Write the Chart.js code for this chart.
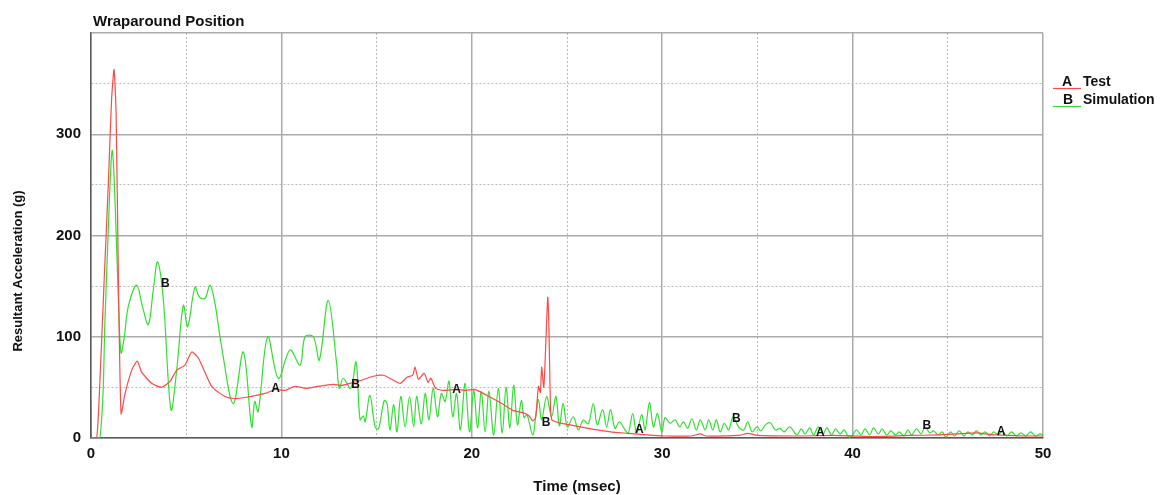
<!DOCTYPE html>
<html>
<head>
<meta charset="utf-8">
<script src="https://cdn.jsdelivr.net/npm/chart.js@4/dist/chart.umd.min.js"></script>
<style>
  body { margin: 0; background: #fff; }
</style>
</head>
<body>
<canvas id="accel" width="1161" height="495"></canvas>
<script>
// Test (A) - time in msec, acceleration in g
const testTime = [0, 0.03, 0.3, 0.47, 0.7, 0.91, 1.08, 1.21, 1.32, 1.44, 1.58, 1.79, 2.14, 2.43, 2.66, 3.19, 3.71, 4.15, 4.5, 4.94,
  5.29, 5.64, 6.34, 7.04, 7.56, 8.1, 9.14, 9.7, 10.19, 10.7, 11.3, 11.9, 12.73, 13.2, 13.6, 14.2, 14.83, 15.35, 15.8, 16.25,
  16.6, 16.9, 17.02, 17.2, 17.5, 17.7, 17.85, 18.1, 18.5, 19.2, 19.7, 20.15, 20.8, 21.2, 21.66, 22.2, 22.7, 23.0, 23.2, 23.35,
  23.5, 23.6, 23.67, 23.78, 23.88, 23.99, 24.05, 24.12, 24.2, 24.6, 25.15, 25.7, 26.4, 27.3, 28.2, 29.2, 30.1, 31.5, 32.0, 32.3,
  34.0, 34.5, 35.0, 37, 39, 41, 43, 44.5, 45.5, 46.5, 47.5, 49, 50];
const testAccel = [37, 0, 0, 57, 160, 251, 334, 364, 320, 156, 24, 44, 67, 76, 65, 54, 50, 56, 67, 72,
  85, 79, 51, 41, 39, 40, 44, 48, 47, 51, 49, 51, 53, 52, 54, 57, 61, 62, 58, 54,
  60, 62, 70, 58, 64, 55, 59, 49, 47, 48, 47, 48, 42, 38, 33, 27, 25, 22, 17, 20,
  51, 45, 70, 50, 90, 139, 110, 40, 18, 15, 13, 11, 8.5, 6, 4.6, 3, 2, 2, 4, 2,
  2.5, 4.6, 2.5, 2, 2.5, 1.5, 2.5, 3, 4, 5, 3, 2, 2];

// Simulation (B)
const simTime = [0, 0.47, 0.74, 1.0, 1.12, 1.26, 1.44, 1.58, 1.75, 1.96, 2.4, 2.7, 3.01, 3.27, 3.5, 3.8, 4.2, 4.5, 4.85, 5.08,
  5.46, 5.7, 5.99, 6.25, 6.51, 6.86, 7.47, 8.0, 8.44, 8.6, 8.78, 9.28, 9.84, 10.45, 10.98, 11.24, 11.68, 11.99, 12.46, 12.9,
  13.04, 13.25, 13.64, 13.92, 14.13, 14.3, 14.4, 14.65, 14.92, 15.1, 15.4, 15.55, 15.7, 15.9, 16.07, 16.27, 16.5, 16.73, 16.95, 17.1,
  17.35, 17.55, 17.75, 17.97, 18.2, 18.4, 18.6, 18.8, 19.0, 19.2, 19.4, 19.65, 19.88, 20.1, 20.3, 20.5, 20.7, 20.9, 21.15, 21.39,
  21.6, 21.8, 22.0, 22.2, 22.4, 22.6, 22.75, 22.9, 23.2, 23.35, 23.5, 23.67, 23.93, 24.19, 24.42, 24.6, 24.8, 25.02, 25.33, 25.6,
  25.86, 26.12, 26.38, 26.59, 26.87, 27.08, 27.29, 27.52, 27.75, 28.05, 28.22, 28.45, 28.66, 28.92, 29.1, 29.33, 29.54, 29.75, 29.98, 30.15,
  30.42, 30.68, 30.91, 31.12, 31.33, 31.56, 31.79, 32.0, 32.26, 32.44, 32.66, 32.84, 33.05, 33.26, 33.49, 33.72, 34.01, 34.28, 34.49, 34.72,
  34.98, 35.19, 35.42, 35.68, 35.94, 36.2, 36.4, 36.7, 37.08, 37.3, 37.5, 37.75, 37.95, 38.2, 38.45, 38.65, 38.9, 39.1, 39.35, 39.55,
  39.8, 40.0, 40.2, 40.45, 40.65, 40.9, 41.1, 41.35, 41.55, 41.8, 42.0, 42.25, 42.45, 42.7, 42.9, 43.1, 43.35, 43.6, 43.8, 44.05,
  44.25, 44.5, 44.7, 44.9, 45.15, 45.35, 45.6, 45.85, 46.05, 46.3, 46.5, 46.75, 46.95, 47.2, 47.4, 47.65, 47.85, 48.1, 48.35, 48.6,
  48.85, 49.1, 49.35, 49.6, 49.85, 50];
const simAccel = [0, 0, 120, 251, 284, 235, 136, 84, 100, 130, 151, 130, 112, 146, 174, 136, 28, 67, 131, 110,
  149, 139, 138, 151, 133, 90, 34, 85, 11, 36, 26, 100, 59, 87, 72, 100, 100, 77, 136, 74,
  49, 59, 49, 75, 18, 22, 16, 42, 11, 9, 37, 34, 8, 33, 6, 41, 11, 41, 11, 41,
  14, 44, 18, 49, 21, 44, 36, 56, 21, 44, 8, 54, 6, 47, 10, 46, 6, 46, 3, 49,
  5, 50, 10, 52, 13, 37, 20, 23, 3, 20, 38, 18, 41, 21, 41, 12, 34, 11, 21, 8,
  18, 14, 34, 13, 28, 11, 28, 9.5, 16, 8, 4.6, 24, 4.6, 23, 8, 35, 11, 24, 6, 20,
  14.5, 18, 11, 16, 9.5, 19, 8, 18, 8, 18, 8, 18, 6, 14.5, 8, 21, 11, 8, 16, 6,
  11, 7, 13, 15, 8, 9.5, 6, 11, 3, 9, 4, 10, 3, 11, 4, 10, 3, 9, 4, 8,
  1, 3, 8, 3, 9, 3, 10, 4, 9, 3, 7, 3, 6, 2, 8, 3, 9, 4, 11, 5,
  7, 3, 6, 1, 6, 2, 7, 2, 6, 3, 7, 3, 6, 2, 6, 3, 7, 2, 6, 2,
  5, 2, 6, 2, 4, 3];

// curve labels sitting on the lines
const markA_t = [9.7, 19.2, 28.8, 38.3, 47.8];
const markA_v = [49, 48, 8, 5, 6];
const markB_t = [3.9, 13.9, 23.9, 33.9, 43.9];
const markB_v = [152, 53, 15, 19, 12];

const toPoints = (xs, ys) => xs.map((x, i) => ({ x: x, y: ys[i] }));

const gridColor = (ctx) => (ctx.tick && ctx.tick.value % 10 === 0 ? "#ababab" : "#b9b9b9");

const textPlugin = {
  id: "textPlugin",
  afterDraw(chart) {
    const ctx = chart.ctx;
    const x = chart.scales.x;
    const y = chart.scales.y;
    ctx.save();
    ctx.fillStyle = "#111";

    // curve letters
    ctx.font = "bold 12px 'Liberation Sans', Arial, sans-serif";
    ctx.textAlign = "center";
    ctx.textBaseline = "middle";
    markA_t.forEach((t, i) => ctx.fillText("A", x.getPixelForValue(t), y.getPixelForValue(markA_v[i])));
    markB_t.forEach((t, i) => ctx.fillText("B", x.getPixelForValue(t), y.getPixelForValue(markB_v[i])));

    // title
    ctx.font = "bold 15px 'Liberation Sans', Arial, sans-serif";
    ctx.textAlign = "left";
    ctx.textBaseline = "alphabetic";
    ctx.fillText("Wraparound Position", chart.chartArea.left + 2, 26);

    // x axis title
    ctx.textAlign = "center";
    ctx.textBaseline = "middle";
    ctx.fillText("Time (msec)", 577, 487);

    // y axis title
    ctx.save();
    ctx.translate(18, 271);
    ctx.rotate(-Math.PI / 2);
    ctx.font = "bold 13px 'Liberation Sans', Arial, sans-serif";
    ctx.fillText("Resultant Acceleration (g)", 0, 0);
    ctx.restore();

    // legend
    const lx = chart.chartArea.right + 10;
    ctx.font = "bold 14px 'Liberation Sans', Arial, sans-serif";
    ctx.textAlign = "left";
    ctx.lineWidth = 1.2;
    ctx.strokeStyle = "#ff4848";
    ctx.beginPath(); ctx.moveTo(lx, 88.5); ctx.lineTo(lx + 28, 88.5); ctx.stroke();
    ctx.strokeStyle = "#30e030";
    ctx.beginPath(); ctx.moveTo(lx, 106.5); ctx.lineTo(lx + 28, 106.5); ctx.stroke();
    ctx.fillText("A", lx + 9, 82);
    ctx.fillText("Test", lx + 30, 82);
    ctx.fillText("B", lx + 10, 100);
    ctx.fillText("Simulation", lx + 30, 100);
    ctx.restore();
  },
};

new Chart(document.getElementById("accel"), {
  type: "line",
  data: {
    datasets: [
      {
        label: "Test",
        data: toPoints(testTime, testAccel),
        borderColor: "#ff4848",
        borderWidth: 1.2,
        pointRadius: 0,
        tension: 0.2,
        fill: false,
      },
      {
        label: "Simulation",
        data: toPoints(simTime, simAccel),
        borderColor: "#30e030",
        borderWidth: 1.2,
        pointRadius: 0,
        tension: 0.35,
        fill: false,
      },
    ],
  },
  options: {
    responsive: false,
    animation: false,
    layout: { padding: { top: 33, right: 118, left: 0, bottom: 0 } },
    plugins: {
      legend: { display: false },
      tooltip: { enabled: false },
    },
    scales: {
      x: {
        type: "linear",
        min: 0,
        max: 50,
        afterFit: (s) => { s.height = 57; },
        ticks: {
          stepSize: 5,
          padding: 7,
          color: "#111",
          font: { family: "'Liberation Sans', Arial, sans-serif", size: 15, weight: "bold" },
          callback: (v) => (v % 10 === 0 ? v : ""),
          maxRotation: 0,
          autoSkip: false,
        },
        grid: { color: gridColor, lineWidth: (ctx) => (ctx.tick && ctx.tick.value % 10 === 0 ? 1.5 : 1), drawTicks: false },
        border: {
          color: "#5a5a5a",
          width: 1.5,
          dash: (ctx) => (ctx.tick && ctx.tick.value % 10 !== 0 ? [2, 2] : []),
        },
      },
      y: {
        min: 0,
        max: 400,
        afterFit: (s) => { s.width = 91; },
        ticks: {
          stepSize: 50,
          padding: 10,
          color: "#111",
          font: { family: "'Liberation Sans', Arial, sans-serif", size: 15, weight: "bold" },
          callback: (v) => (v % 100 === 0 && v < 400 ? v : ""),
        },
        grid: {
          color: (ctx) => (ctx.tick && ctx.tick.value % 100 === 0 ? "#ababab" : "#b9b9b9"),
          lineWidth: (ctx) => (ctx.tick && ctx.tick.value % 100 === 0 ? 1.5 : 1),
          drawTicks: false,
        },
        border: {
          color: "#5a5a5a",
          width: 1.5,
          dash: (ctx) => (ctx.tick && ctx.tick.value % 100 !== 0 ? [2, 2] : []),
        },
      },
    },
  },
  plugins: [textPlugin],
});
</script>
</body>
</html>
